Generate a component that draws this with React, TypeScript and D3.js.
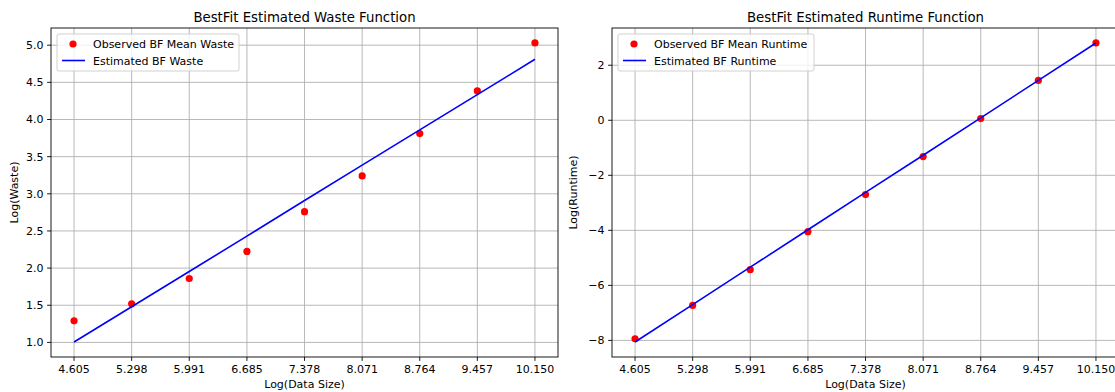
import React from "react";
import * as d3 from "d3";

// log(data size) values shared by both panels
const logSizes = [4.605, 5.298, 5.991, 6.685, 7.378, 8.071, 8.764, 9.457, 10.15];

const wasteObserved = [1.29, 1.52, 1.86, 2.225, 2.76, 3.24, 3.81, 4.385, 5.03];
const wasteEstimated = [1.005, 1.48, 1.955, 2.43, 2.91, 3.385, 3.86, 4.335, 4.81];
const wasteTicks = [1.0, 1.5, 2.0, 2.5, 3.0, 3.5, 4.0, 4.5, 5.0];

const runtimeObserved = [-7.94, -6.73, -5.43, -4.05, -2.7, -1.32, 0.06, 1.45, 2.81];
const runtimeEstimated = [-8.06, -6.7, -5.34, -3.98, -2.62, -1.27, 0.09, 1.45, 2.81];
const runtimeTicks = [-8, -6, -4, -2, 0, 2];

const FONT = "DejaVu Sans, sans-serif";
const FS = 11;

type PanelProps = {
  left: number;
  top: number;
  width: number;
  height: number;
  title: string;
  ylabel: string;
  ylabelOffset: number;
  observed: number[];
  estimated: number[];
  yTicks: number[];
  yFmt: (v: number) => string;
  obsLabel: string;
  estLabel: string;
  legendW: number;
};

const Panel = (p: PanelProps) => {
  const xs = d3.extent(logSizes) as [number, number];
  const xPad = (xs[1] - xs[0]) * 0.05;
  const x = d3
    .scaleLinear()
    .domain([xs[0] - xPad, xs[1] + xPad])
    .range([p.left, p.left + p.width]);

  const ys = d3.extent([...p.observed, ...p.estimated]) as [number, number];
  const yPad = (ys[1] - ys[0]) * 0.05;
  const y = d3
    .scaleLinear()
    .domain([ys[0] - yPad, ys[1] + yPad])
    .range([p.top + p.height, p.top]);

  const line = d3
    .line<number>()
    .x((_, i) => x(logSizes[i]))
    .y((d) => y(d));

  const bottom = p.top + p.height;
  const right = p.left + p.width;
  const lx = p.left + 6;
  const ly = p.top + 6;

  return (
    <g fontFamily={FONT} fill="#000">
      {/* grid */}
      {logSizes.map((t) => (
        <line key={"gx" + t} x1={x(t)} x2={x(t)} y1={p.top} y2={bottom} stroke="#b0b0b0" strokeWidth={0.9} />
      ))}
      {p.yTicks.map((t) => (
        <line key={"gy" + t} x1={p.left} x2={right} y1={y(t)} y2={y(t)} stroke="#b0b0b0" strokeWidth={0.9} />
      ))}

      {/* data */}
      {p.observed.map((d, i) => (
        <circle key={"pt" + i} cx={x(logSizes[i])} cy={y(d)} r={3.6} fill="#ff0000" />
      ))}
      <path d={line(p.estimated) || ""} fill="none" stroke="#0000ff" strokeWidth={1.6} />

      {/* frame */}
      <rect x={p.left} y={p.top} width={p.width} height={p.height} fill="none" stroke="#000" strokeWidth={0.9} />

      {/* x axis */}
      {logSizes.map((t) => (
        <g key={"tx" + t}>
          <line x1={x(t)} x2={x(t)} y1={bottom} y2={bottom + 3.9} stroke="#000" strokeWidth={0.9} />
          <text x={x(t)} y={bottom + 16} fontSize={FS} textAnchor="middle">
            {d3.format(".3f")(t)}
          </text>
        </g>
      ))}
      <text x={p.left + p.width / 2} y={bottom + 31} fontSize={FS} textAnchor="middle">
        Log(Data Size)
      </text>

      {/* y axis */}
      {p.yTicks.map((t) => (
        <g key={"ty" + t}>
          <line x1={p.left - 3.9} x2={p.left} y1={y(t)} y2={y(t)} stroke="#000" strokeWidth={0.9} />
          <text x={p.left - 7.5} y={y(t) + 4} fontSize={FS} textAnchor="end">
            {p.yFmt(t)}
          </text>
        </g>
      ))}
      <text
        transform={`translate(${p.left - p.ylabelOffset},${p.top + p.height / 2}) rotate(-90)`}
        fontSize={FS}
        textAnchor="middle"
      >
        {p.ylabel}
      </text>

      {/* title */}
      <text x={p.left + p.width / 2} y={p.top - 6} fontSize={13.3} textAnchor="middle">
        {p.title}
      </text>

      {/* legend */}
      <rect x={lx} y={ly} width={p.legendW} height={37} rx={2} fill="#fff" fillOpacity={0.8} stroke="#cccccc" strokeWidth={0.9} />
      <circle cx={lx + 16} cy={ly + 10} r={3.6} fill="#ff0000" />
      <text x={lx + 36} y={ly + 14} fontSize={FS}>
        {p.obsLabel}
      </text>
      <line x1={lx + 5} x2={lx + 28} y1={ly + 26.5} y2={ly + 26.5} stroke="#0000ff" strokeWidth={1.6} />
      <text x={lx + 36} y={ly + 30.5} fontSize={FS}>
        {p.estLabel}
      </text>
    </g>
  );
};

const App = () => {
  return (
    <svg
      width={1115}
      height={392}
      style={{ position: "absolute", left: 0, top: 0, background: "#fff" }}
    >
      <Panel
        left={51}
        top={28}
        width={507}
        height={329}
        title="BestFit Estimated Waste Function"
        ylabel="Log(Waste)"
        ylabelOffset={33}
        observed={wasteObserved}
        estimated={wasteEstimated}
        yTicks={wasteTicks}
        yFmt={d3.format(".1f")}
        obsLabel="Observed BF Mean Waste"
        estLabel="Estimated BF Waste"
        legendW={182}
      />
      <Panel
        left={612}
        top={28}
        width={507}
        height={329}
        title="BestFit Estimated Runtime Function"
        ylabel="Log(Runtime)"
        ylabelOffset={35}
        observed={runtimeObserved}
        estimated={runtimeEstimated}
        yTicks={runtimeTicks}
        yFmt={d3.format("d")}
        obsLabel="Observed BF Mean Runtime"
        estLabel="Estimated BF Runtime"
        legendW={196}
      />
    </svg>
  );
};

export default App;
